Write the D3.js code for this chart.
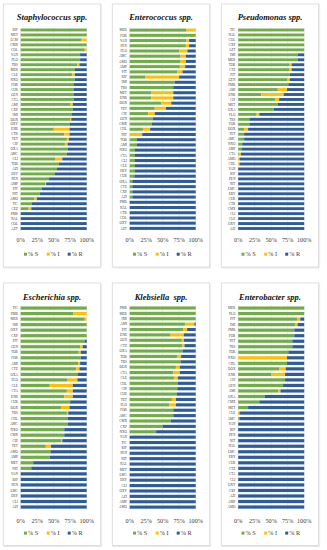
<!DOCTYPE html>
<html><head><meta charset="utf-8">
<script src="https://cdn.jsdelivr.net/npm/d3@7"></script>
<style>html,body{margin:0;padding:0;background:#fff;} svg{display:block;}</style>
</head><body>
<svg id="c" width="327" height="550"></svg>
<script>
// ---- Data (percent S, I, R per antibiotic) ----
const staphCats = ["RIF","MET","LCM","CMX","COL","VAN","FLO","TRS","MER","CLE","NXO","FOR","CUR","GEN","CTA","AMI","CXP","IMI","DOX","OXY","ENR","CTR","TET","CIP","OXA","AMC","CLI","TOB","AZI","ERY","PEN","AMP","PIT","NIT","AMO","TIC","CEZ","PMB","NAL","COL","AZT"];
const staphS = [100,100,92,100,97,90,90,86,82,78,82,80,80,80,80,75,79,77,75,74,50,66,70,67,71,70,52,58,55,52,43,37,32,29,21,17,12,0,0,0,0];
const staphI = [0,0,8,0,3,0,0,3,0,4,0,0,0,0,0,4,0,0,1.5,0,24,8,3,4,0,0,11,0,0,0,0,1.5,0,0,3.5,0,4,0,0,0,0];
const staphR = [0,0,0,0,0,10,10,11,18,18,18,20,20,20,20,21,21,23,23.5,26,26,26,27,29,29,30,37,42,45,48,57,61.5,68,71,75.5,83,84,100,100,100,100];

const enteroCats = ["MER","FOR","VAN","PEN","FLO","AMC","AMO","AMP","PIT","RIF","IMI","TRS","MET","ENR","DOX","TET","CIP","GEN","CMX","CHL","NIT","TOB","AMI","NXO","CTA","CLI","CLE","ERY","CUR","OXA","CTZ","CXP","AZI","PMB","NAL","CTR","COL","OXY","AZT"];
const enteroS = [86,100,86,85,75,77,77,76,72,24,68,66,33,33,48,38,28,35,33,20,0,11,11,8,8,8,8,8,7,4,4,4,4,0,0,0,0,0,0];
const enteroI = [14,0,4,5,12.5,8,8,8,8,51,0,0,33,33,15,17,10,0,0,11,19,0,0,0,0,0,0,0,0,0,0,0,0,0,0,0,0,0,0];
const enteroR = [0,0,10,10,12.5,15,15,16,20,25,32,34,34,34,37,45,62,65,67,69,81,89,89,92,92,92,92,92,93,96,96,96,96,100,100,100,100,100,100];

const pseudoCats = ["TIC","NAL","COL","CXP","AZT","IMI","MER","TOB","CTZ","PIT","GEN","PMB","AMI","ENR","CIP","MET","OXA","FLO","TRS","FOR","DOX","TET","AMC","NXO","AMP","CTA","AMO","CHL","VAN","RIF","PEN","NIT","LMC","ERY","CUR","CTR","CMX","CLI","CLE","OXY","AZI"];
const pseudoS = [100,100,100,100,100,90,90,78,78,78,74,76,60,35,56,60,54,28,17,17,9,9,9,6,5,2,0,0,0,0,0,0,0,0,0,0,0,0,0,0,0];
const pseudoI = [0,0,0,0,0,0,0,3,3,0,4,0,14,34,6,0,0,4,0,0,6,0,0,0,0,2,2,2,0,0,0,0,0,0,0,0,0,0,0,0,0];
const pseudoR = [0,0,0,0,0,10,10,19,19,22,22,24,26,31,38,40,46,68,83,83,85,91,91,94,95,96,98,98,100,100,100,100,100,100,100,100,100,100,100,100,100];

const escheCats = ["TIC","PMB","MER","IMI","OXY","CXP","PIT","GEN","TOB","FOR","AMI","CTZ","OXA","FLO","CLE","CTA","ENR","CUR","DOX","TRS","CHL","AMC","NXO","CMX","CIP","TET","AMO","AMP","MET","NIT","VAN","RIF","PEN","LMC","ERY","CLI","AZI"];
const escheS = [100,80,97,100,100,100,97,90,88,91,87,84,86,71,44,70,66,75,61,70,71,71,66,66,61,38,45,44,19,16,0,0,0,0,0,0,0];
const escheI = [0,20,3,0,0,0,0,4,3,0,3,5,0,15,35,9,13,0,13,2,0,0,0,0,2,8,0,0,0,0,0,0,0,0,0,0,0];
const escheR = [0,0,0,0,0,0,3,6,9,9,10,11,14,14,21,21,21,25,26,28,29,29,34,34,37,54,55,56,81,84,100,100,100,100,100,100,100];

const klebCats = ["PMB","MER","IMI","AMI","PIT","ENR","GEN","CTZ","OXA","TOB","TRS","DOX","CTA","CLE","CHL","CIP","CUR","TET","FLO","FOR","AMC","CMX","CXP","NXO","VAN","TIC","RIF","PEN","NIT","NAL","MET","LMC","ERY","CLI","OXY","AZI","AMP","AMO"];
const klebS = [100,100,100,84,81,62,79,80,80,72,77,70,66,67,73,72,71,64,60,66,66,62,50,40,0,0,0,0,0,0,0,0,0,0,0,0,0,0];
const klebI = [0,0,0,14,6,20,3,3,0,6,0,6,10,6,0,0,0,6,10,0,0,0,0,0,0,0,0,0,0,0,0,0,0,0,0,0,0,0];
const klebR = [0,0,0,2,13,18,18,17,20,22,23,24,24,27,27,28,29,30,30,34,34,38,50,60,100,100,100,100,100,100,100,100,100,100,100,100,100,100];

const enterobCats = ["MER","FLO","PIT","IMI","PMB","FOR","TET","TRS","TOB","NXO","CHL","DOX","ENR","CIP","GEN","AMI","OXA","CMX","MET","CLE","AMC","VAN","RIF","PEN","NIT","NAL","LMC","ERY","CUR","CTZ","CTA","CLI","OXY","CXP","AZI","AMP","AMO"];
const enterobS = [100,100,90,86,85,85,82,82,76,0,74,62,50,71,68,61,40,32,15,0,2,0,0,0,0,0,0,0,0,0,0,0,0,0,0,0,0];
const enterobI = [0,0,4,4,0,0,0,0,0,74,0,10,21,0,0,3,0,0,0,2,0,0,0,0,0,0,0,0,0,0,0,0,0,0,0,0,0];
const enterobR = [0,0,6,10,15,15,18,18,24,26,26,28,29,29,32,36,60,68,85,98,98,100,100,100,100,100,100,100,100,100,100,100,100,100,100,100,100];

const xTicks = [0,25,50,75,100];
const seriesKeys = ["S","I","R"];
const seriesLabels = ["% S","% I","% R"];
const colors = {S:"#70AD47", I:"#FFC000", R:"#2E5C9A"};

const panels = [
  {title:"Staphylococcus spp.", cats:staphCats, S:staphS, I:staphI, R:staphR, col:0, row:0},
  {title:"Enterococcus spp.", cats:enteroCats, S:enteroS, I:enteroI, R:enteroR, col:1, row:0},
  {title:"Pseudomonas spp.", cats:pseudoCats, S:pseudoS, I:pseudoI, R:pseudoR, col:2, row:0},
  {title:"Escherichia spp.", cats:escheCats, S:escheS, I:escheI, R:escheR, col:0, row:1},
  {title:"Klebsiella  spp.", cats:klebCats, S:klebS, I:klebI, R:klebR, col:1, row:1},
  {title:"Enterobacter spp.", cats:enterobCats, S:enterobS, I:enterobI, R:enterobR, col:2, row:1}
];

// ---- Layout ----
const panelLeft = [3.3, 112.3, 221.3];
const panelW = 97.4;
const barStart = [20.7, 129.7, 238.2];
const barW = 66;
const rows = [
  {top:4, bottom:267, titleY:20.2, band:[27.5,231], axisY:242.3, legendY:256.3},
  {top:283, bottom:545.5, titleY:299.7, band:[305.3,509.8], axisY:523.3, legendY:535.2}
];
const serif = "'Liberation Serif','Times New Roman',serif";

const svg = d3.select("#c");
const defs = svg.append("defs");
const f = defs.append("filter").attr("id","sh").attr("x","-5%").attr("y","-5%").attr("width","110%").attr("height","110%");
f.append("feDropShadow").attr("dx",0.6).attr("dy",0.6).attr("stdDeviation",0.6).attr("flood-color","#000").attr("flood-opacity",0.18);

panels.forEach(p => {
  const r = rows[p.row];
  const pl = panelLeft[p.col];
  const g = svg.append("g");
  g.append("rect").attr("x",pl).attr("y",r.top).attr("width",panelW).attr("height",r.bottom-r.top)
    .attr("fill","#fff").attr("stroke","#D9D9D9").attr("stroke-width",0.8).attr("filter","url(#sh)");

  const x = d3.scaleLinear().domain([0,100]).range([barStart[p.col], barStart[p.col]+barW]);
  const y = d3.scaleBand().domain(d3.range(p.cats.length)).range(r.band).paddingInner(0.42).paddingOuter(0.21);

  // title
  g.append("text").attr("x", pl+panelW/2).attr("y", r.titleY).attr("text-anchor","middle")
    .attr("font-family",serif).attr("font-weight","bold").attr("font-style","italic")
    .attr("font-size",8.5).attr("fill","#111").style("white-space","pre").text(p.title);

  // grid
  g.selectAll("line.grid").data(xTicks).join("line")
    .attr("x1",d=>x(d)).attr("x2",d=>x(d)).attr("y1",r.band[0]).attr("y2",r.band[1])
    .attr("stroke","#D9D9D9").attr("stroke-width",0.5);

  const data = p.cats.map((c,i)=>({i, S:p.S[i], I:p.I[i], R:p.R[i]}));
  const stacked = d3.stack().keys(seriesKeys)(data);
  stacked.forEach(s => {
    g.append("g").attr("fill", colors[s.key]).selectAll("rect").data(s).join("rect")
      .attr("x", d=>x(d[0])).attr("width", d=>Math.max(0, x(d[1])-x(d[0])))
      .attr("y", d=>y(d.data.i)).attr("height", y.bandwidth());
  });

  // y labels
  g.selectAll("text.cat").data(p.cats).join("text")
    .attr("x", barStart[p.col]-2.8).attr("y",(d,i)=>y(i)+y.bandwidth()/2)
    .attr("dy","0.35em").attr("text-anchor","end").attr("font-family",serif)
    .attr("font-size",3.4).attr("fill","#404040").text(d=>d);

  // x axis labels
  g.selectAll("text.tick").data(xTicks).join("text")
    .attr("x",d=>x(d)).attr("y",r.axisY).attr("text-anchor","middle")
    .attr("font-family",serif).attr("font-size",6.2).attr("fill","#404040").text(d=>d+"%");

  // legend
  const sqOff = [3.3, 26, 47];
  const txOff = [7.4, 30.1, 51.1];
  seriesKeys.forEach((k,j) => {
    g.append("rect").attr("x", barStart[p.col]+sqOff[j]).attr("y", r.legendY-3.6).attr("width",3).attr("height",3).attr("fill",colors[k]);
    g.append("text").attr("x", barStart[p.col]+txOff[j]).attr("y", r.legendY)
      .attr("font-family",serif).attr("font-size",6.2).attr("fill","#404040").text(seriesLabels[j]);
  });
});
</script>
</body></html>
